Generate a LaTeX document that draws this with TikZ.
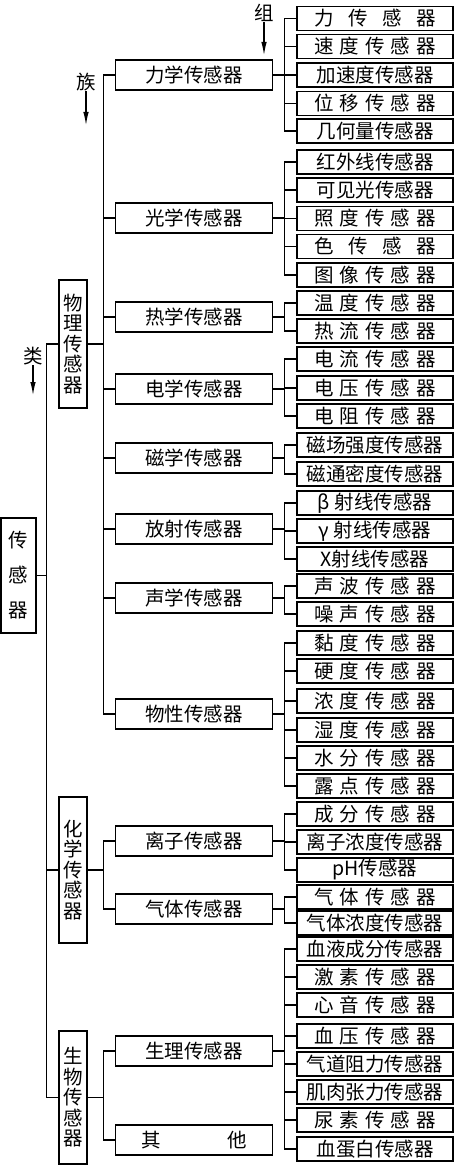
\documentclass[tikz,border=0pt]{standalone}
\usepackage{fontspec}
\newfontfamily\cjk{Noto Sans CJK SC}
\usetikzlibrary{arrows.meta}
\newcommand\spr[2][121pt]{\makebox[#1][s]{#2}}

\begin{document}
\begin{tikzpicture}[
    x=1pt, y=-1pt,
    font=\cjk\fontsize{19.5}{20.5}\selectfont,
    leaf/.style={draw, line width=1.1pt, minimum width=156pt,
                 minimum height=24pt, inner sep=0pt},
    grp/.style={draw, line width=1.1pt, minimum width=157pt,
                minimum height=30pt, inner sep=0pt},
    cat/.style={draw, line width=1.1pt, minimum width=28pt,
                inner sep=0pt, align=center},
    tag/.style={inner sep=0pt},
    link/.style={line width=1.1pt},
    arr/.style={-{Latex[length=13pt,width=5.5pt]}, line width=1.1pt}
  ]
    \useasboundingbox (0,0) rectangle (455,1166);

    \node[cat, minimum width=35pt, minimum height=115pt,
          font=\cjk\fontsize{19.5}{35}\selectfont]
      (root) at (18.5,575.5) {传\\感\\器};
    \node[cat, minimum height=128pt] (phy) at (73,344) {物\\理\\传\\感\\器};
    \node[cat, minimum height=146pt] (chem) at (73,870) {化\\学\\传\\感\\器};
    \node[cat, minimum height=133pt] (bio) at (73,1097.5) {生\\物\\传\\感\\器};

    \node[grp] (mech) at (194,75) {力学传感器};
    \node[grp] (opt) at (194,218) {光学传感器};
    \node[grp] (heat) at (194,317) {热学传感器};
    \node[grp] (elec) at (194,389) {电学传感器};
    \node[grp] (mag) at (194,458) {磁学传感器};
    \node[grp] (rad) at (194,529) {放射传感器};
    \node[grp] (acou) at (194,598) {声学传感器};
    \node[grp] (prop) at (194,714) {物性传感器};
    \node[grp] (ion) at (194,841) {离子传感器};
    \node[grp] (gas) at (194,909) {气体传感器};
    \node[grp] (phys) at (194,1051) {生理传感器};
    \node[grp] (other) at (194,1140) {\spr[105pt]{其 他}};

    \node[leaf] (m1) at (375,18.5) {\spr{力 传 感 器}};
    \node[leaf] (m2) at (375,46.5) {\spr{速 度 传 感 器}};
    \node[leaf] (m3) at (375,75) {加速度传感器};
    \node[leaf] (m4) at (375,103.5) {\spr{位 移 传 感 器}};
    \node[leaf] (m5) at (375,131) {几何量传感器};
    \node[leaf] (o1) at (375,162) {红外线传感器};
    \node[leaf] (o2) at (375,190) {可见光传感器};
    \node[leaf] (o3) at (375,218.5) {\spr{照 度 传 感 器}};
    \node[leaf] (o4) at (375,246.5) {\spr{色 传 感 器}};
    \node[leaf] (o5) at (375,275) {\spr{图 像 传 感 器}};
    \node[leaf] (h1) at (375,303) {\spr{温 度 传 感 器}};
    \node[leaf] (h2) at (375,331) {\spr{热 流 传 感 器}};
    \node[leaf] (e1) at (375,359) {\spr{电 流 传 感 器}};
    \node[leaf] (e2) at (375,388) {\spr{电 压 传 感 器}};
    \node[leaf] (e3) at (375,416) {\spr{电 阻 传 感 器}};
    \node[leaf] (g1) at (375,445) {磁场强度传感器};
    \node[leaf] (g2) at (375,474) {磁通密度传感器};
    \node[leaf] (r1) at (375,503) {β 射线传感器};
    \node[leaf] (r2) at (375,531) {γ 射线传感器};
    \node[leaf] (r3) at (375,559) {X射线传感器};
    \node[leaf] (a1) at (375,586) {\spr{声 波 传 感 器}};
    \node[leaf] (a2) at (375,614) {\spr{噪 声 传 感 器}};
    \node[leaf] (p1) at (375,643) {\spr{黏 度 传 感 器}};
    \node[leaf] (p2) at (375,671) {\spr{硬 度 传 感 器}};
    \node[leaf] (p3) at (375,701) {\spr{浓 度 传 感 器}};
    \node[leaf] (p4) at (375,730) {\spr{湿 度 传 感 器}};
    \node[leaf] (p5) at (375,758) {\spr{水 分 传 感 器}};
    \node[leaf] (p6) at (375,786) {\spr{露 点 传 感 器}};
    \node[leaf] (i1) at (375,814) {\spr{成 分 传 感 器}};
    \node[leaf] (i2) at (375,842) {离子浓度传感器};
    \node[leaf] (i3) at (375,870) {pH传感器};
    \node[leaf] (s1) at (375,897) {\spr{气 体 传 感 器}};
    \node[leaf] (s2) at (375,923) {气体浓度传感器};
    \node[leaf] (b1) at (375,949) {血液成分传感器};
    \node[leaf] (b2) at (375,977) {\spr{激 素 传 感 器}};
    \node[leaf] (b3) at (375,1005) {\spr{心 音 传 感 器}};
    \node[leaf] (b4) at (375,1036) {\spr{血 压 传 感 器}};
    \node[leaf] (b5) at (375,1064) {气道阻力传感器};
    \node[leaf] (b6) at (375,1092) {肌肉张力传感器};
    \node[leaf] (b7) at (375,1120) {\spr{尿 素 传 感 器}};
    \node[leaf] (b8) at (375,1149) {血蛋白传感器};

    \node[tag] (zu) at (264,13) {组};
    \coordinate (zuend) at (264,55);
    \node[tag] (zuz) at (86,82) {族};
    \coordinate (zuzend) at (86,125);
    \node[tag] (lei) at (33,356) {类};
    \coordinate (leiend) at (33,395);
    \draw[arr] (zu) -- (zuend);
    \draw[arr] (zuz) -- (zuzend);
    \draw[arr] (lei) -- (leiend);

    \draw[link] (root.east) -- +(10,0) |- (phy.west)
                (root.east) -- +(10,0) |- (chem.west)
                (root.east) -- +(10,0) |- (bio.west);

    \draw[link] (phy.east) -- +(16,0) |- (mech.west)
                (phy.east) -- +(16,0) |- (opt.west)
                (phy.east) -- +(16,0) |- (heat.west)
                (phy.east) -- +(16,0) |- (elec.west)
                (phy.east) -- +(16,0) |- (mag.west)
                (phy.east) -- +(16,0) |- (rad.west)
                (phy.east) -- +(16,0) |- (acou.west)
                (phy.east) -- +(16,0) |- (prop.west);
    \draw[link] (chem.east) -- +(16,0) |- (ion.west)
                (chem.east) -- +(16,0) |- (gas.west);
    \draw[link] (bio.east) -- +(16,0) |- (phys.west)
                (bio.east) -- +(16,0) |- (other.west);

    \draw[link] (mech.east) -- +(11,0) |- (m1.west)
                (mech.east) -- +(11,0) |- (m2.west)
                (mech.east) -- +(11,0) |- (m3.west)
                (mech.east) -- +(11,0) |- (m4.west)
                (mech.east) -- +(11,0) |- (m5.west);
    \draw[link] (opt.east) -- +(11,0) |- (o1.west)
                (opt.east) -- +(11,0) |- (o2.west)
                (opt.east) -- +(11,0) |- (o3.west)
                (opt.east) -- +(11,0) |- (o4.west)
                (opt.east) -- +(11,0) |- (o5.west);
    \draw[link] (heat.east) -- +(11,0) |- (h1.west)
                (heat.east) -- +(11,0) |- (h2.west);
    \draw[link] (elec.east) -- +(11,0) |- (e1.west)
                (elec.east) -- +(11,0) |- (e2.west)
                (elec.east) -- +(11,0) |- (e3.west);
    \draw[link] (mag.east) -- +(11,0) |- (g1.west)
                (mag.east) -- +(11,0) |- (g2.west);
    \draw[link] (rad.east) -- +(11,0) |- (r1.west)
                (rad.east) -- +(11,0) |- (r2.west)
                (rad.east) -- +(11,0) |- (r3.west);
    \draw[link] (acou.east) -- +(11,0) |- (a1.west)
                (acou.east) -- +(11,0) |- (a2.west);
    \draw[link] (prop.east) -- +(11,0) |- (p1.west)
                (prop.east) -- +(11,0) |- (p2.west)
                (prop.east) -- +(11,0) |- (p3.west)
                (prop.east) -- +(11,0) |- (p4.west)
                (prop.east) -- +(11,0) |- (p5.west)
                (prop.east) -- +(11,0) |- (p6.west);
    \draw[link] (ion.east) -- +(11,0) |- (i1.west)
                (ion.east) -- +(11,0) |- (i2.west)
                (ion.east) -- +(11,0) |- (i3.west);
    \draw[link] (gas.east) -- +(11,0) |- (s1.west)
                (gas.east) -- +(11,0) |- (s2.west);
    \draw[link] (phys.east) -- +(11,0) |- (b1.west)
                (phys.east) -- +(11,0) |- (b2.west)
                (phys.east) -- +(11,0) |- (b3.west)
                (phys.east) -- +(11,0) |- (b4.west)
                (phys.east) -- +(11,0) |- (b5.west)
                (phys.east) -- +(11,0) |- (b6.west)
                (phys.east) -- +(11,0) |- (b7.west)
                (phys.east) -- +(11,0) |- (b8.west);
\end{tikzpicture}
\end{document}
